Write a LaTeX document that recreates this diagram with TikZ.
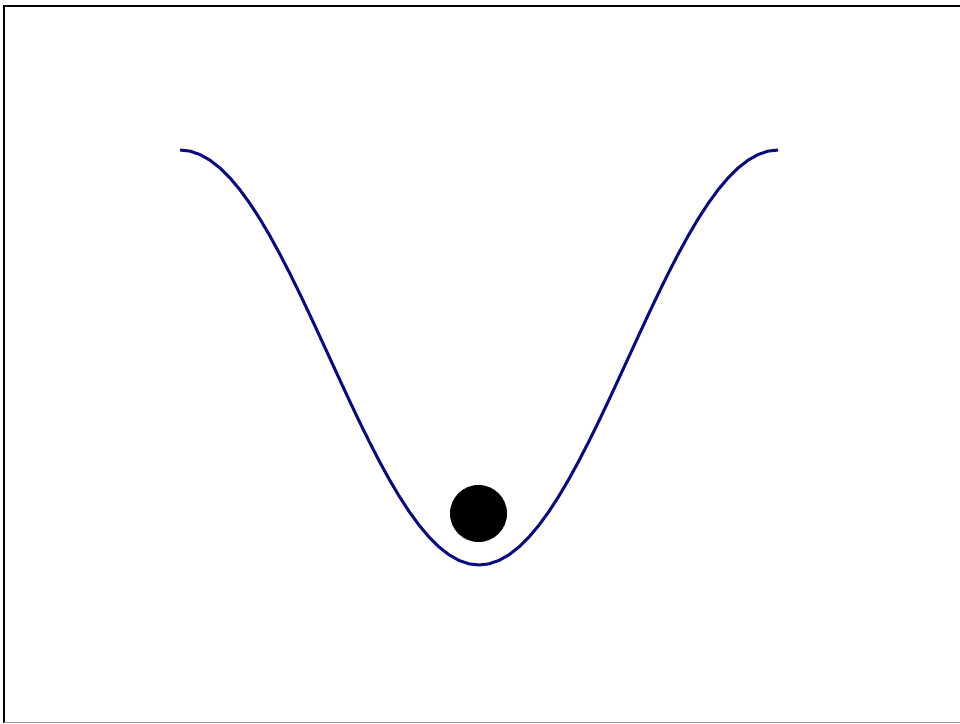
\documentclass[tikz,border=0pt]{standalone}
\begin{document}
\begin{tikzpicture}[x=1pt,y=1pt,
  well/.style={draw={rgb,255:red,10;green,10;blue,130},line width=3pt,line join=round},
  ballstyle/.style={circle,fill=black,minimum size=57pt,inner sep=0pt}]
\useasboundingbox (0,0) rectangle (960,723);
\fill[white] (0,0) rectangle (960,723);
% frame
\draw[black,line width=2pt] (4.3,0) -- (4.3,717);
\draw[black,line width=2pt] (3.3,717) -- (960,717);
\draw[gray!80,line width=1.2pt] (4.3,0.8) -- (960,0.8);
% potential well
\draw[well] plot[domain=-180:180,samples=61] ({479+1.66111*\x},{365.5-207.5*cos(\x)});
% ball
\node[ballstyle] (ball) at (478.5,209.5) {};
\end{tikzpicture}
\end{document}
